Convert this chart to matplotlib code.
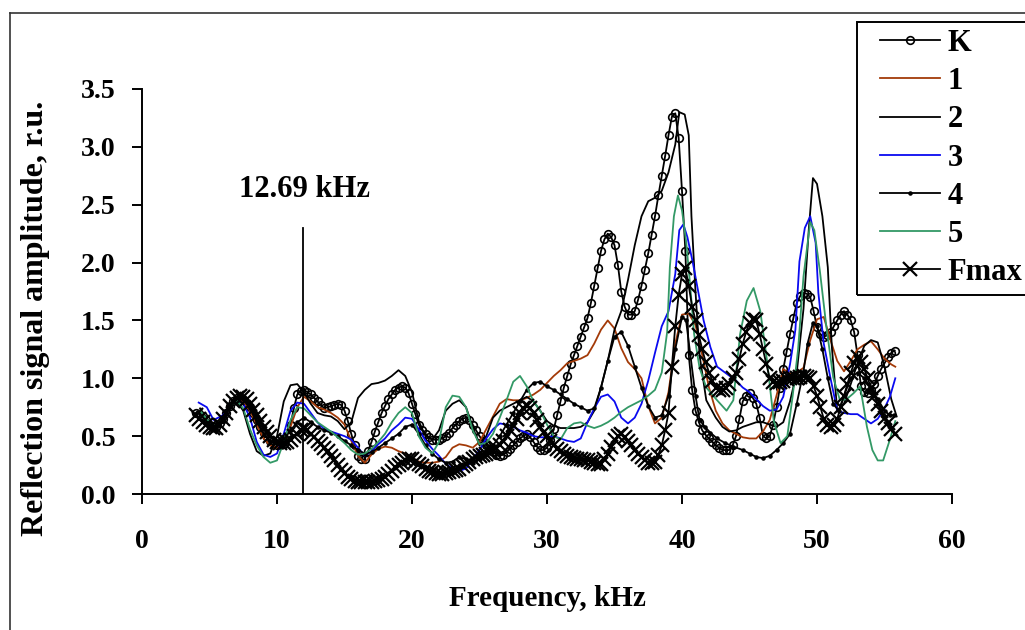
import matplotlib.pyplot as plt
import numpy as np
from matplotlib.lines import Line2D
from matplotlib.patches import Rectangle

plt.rcParams['font.family'] = 'Liberation Serif'
plt.rcParams['font.weight'] = 'bold'

# K and Fmax are sampled every 0.25 kHz from 4 kHz
f_grid = np.arange(208) * 0.25 + 4.0

v_k = [0.70, 0.69, 0.67, 0.64, 0.60, 0.58, 0.58, 0.61,   # 4-6
       0.65, 0.70, 0.76, 0.80, 0.83, 0.83, 0.82, 0.79,   # 6-8
       0.75, 0.70, 0.64, 0.58, 0.53, 0.49, 0.46, 0.44,
       0.42, 0.42, 0.43, 0.50, 0.60, 0.74, 0.86, 0.89,   # 10
       0.90, 0.88, 0.86, 0.83, 0.80, 0.77, 0.74, 0.75,
       0.76, 0.77, 0.78, 0.77, 0.72, 0.63, 0.52, 0.42,   # 14
       0.33, 0.30, 0.30, 0.37, 0.45, 0.54, 0.62, 0.70,
       0.76, 0.82, 0.86, 0.90, 0.92, 0.93, 0.92, 0.87,   # 18
       0.78, 0.69, 0.60, 0.55, 0.52, 0.49, 0.47, 0.47,
       0.47, 0.48, 0.50, 0.53, 0.57, 0.60, 0.63, 0.65,   # 22
       0.66, 0.64, 0.60, 0.55, 0.50, 0.46, 0.42, 0.39,
       0.36, 0.34, 0.33, 0.34, 0.36, 0.39, 0.42, 0.45,   # 26
       0.48, 0.50, 0.52, 0.49, 0.45, 0.41, 0.38, 0.38,
       0.40, 0.47, 0.56, 0.68, 0.80, 0.92, 1.02, 1.12,   # 30
       1.20, 1.28, 1.36, 1.44, 1.52, 1.65, 1.80, 1.95,
       2.10, 2.20, 2.25, 2.22, 2.15, 1.98, 1.75, 1.62,   # 34
       1.55, 1.55, 1.58, 1.68, 1.80, 1.94, 2.08, 2.24,
       2.40, 2.58, 2.75, 2.92, 3.10, 3.26, 3.29, 3.08,   # 38
       2.62, 2.10, 1.20, 0.90, 0.72, 0.62, 0.55, 0.51,
       0.48, 0.45, 0.42, 0.40, 0.38, 0.38, 0.38, 0.42,   # 42
       0.50, 0.65, 0.80, 0.85, 0.87, 0.83, 0.78, 0.66,
       0.50, 0.48, 0.50, 0.60, 0.75, 0.92, 1.08, 1.23,   # 46
       1.38, 1.52, 1.65, 1.71, 1.74, 1.73, 1.70, 1.58,
       1.44, 1.38, 1.36, 1.37, 1.40, 1.45, 1.50, 1.55,   # 50
       1.58, 1.55, 1.50, 1.40, 1.20, 0.93, 0.88, 0.87,
       0.90, 0.95, 1.02, 1.08, 1.13, 1.18, 1.22, 1.24]   # 54-56

v_fm = [0.68, 0.65, 0.62, 0.60, 0.58, 0.57, 0.57, 0.60,  # 4-6
        0.65, 0.70, 0.76, 0.80, 0.83, 0.85, 0.84, 0.82,
        0.78, 0.73, 0.68, 0.63, 0.58, 0.54, 0.50, 0.47,  # 8
        0.45, 0.44, 0.44, 0.45, 0.47, 0.50, 0.52, 0.55,
        0.56, 0.55, 0.52, 0.49, 0.46, 0.43, 0.40, 0.37,  # 12
        0.33, 0.29, 0.25, 0.21, 0.18, 0.15, 0.13, 0.11,
        0.10, 0.10, 0.10, 0.10, 0.10, 0.11, 0.12, 0.13,  # 16
        0.15, 0.17, 0.20, 0.23, 0.25, 0.27, 0.29, 0.30,
        0.30, 0.28, 0.26, 0.24, 0.22, 0.20, 0.19, 0.18,  # 20
        0.17, 0.17, 0.18, 0.19, 0.20, 0.21, 0.22, 0.24,
        0.26, 0.28, 0.30, 0.32, 0.33, 0.34, 0.35, 0.36,  # 24
        0.38, 0.40, 0.42, 0.46, 0.50, 0.55, 0.60, 0.65,
        0.70, 0.74, 0.76, 0.74, 0.70, 0.64, 0.58, 0.54,  # 28
        0.50, 0.46, 0.42, 0.39, 0.37, 0.35, 0.33, 0.32,
        0.31, 0.30, 0.30, 0.29, 0.29, 0.28, 0.27, 0.26,  # 32
        0.26, 0.30, 0.35, 0.41, 0.47, 0.50, 0.52, 0.49,
        0.46, 0.42, 0.38, 0.35, 0.32, 0.29, 0.27, 0.27,  # 36
        0.28, 0.34, 0.42, 0.55, 0.70, 1.10, 1.45, 1.72,
        1.90, 1.95, 1.80, 1.62, 1.50, 1.37, 1.25, 1.14,  # 40
        1.05, 0.98, 0.92, 0.90, 0.90, 0.92, 0.95, 1.00,
        1.05, 1.17, 1.30, 1.40, 1.48, 1.51, 1.50, 1.38,  # 44
        1.25, 1.12, 1.00, 0.97, 0.96, 0.97, 0.98, 0.99,
        1.00, 1.00, 1.00, 1.01, 1.02, 1.01, 1.00, 0.93,  # 48
        0.85, 0.75, 0.65, 0.60, 0.58, 0.60, 0.65, 0.75,
        0.85, 0.95, 1.05, 1.13, 1.18, 1.14, 1.08, 1.00,  # 52
        0.92, 0.85, 0.78, 0.72, 0.66, 0.61, 0.56, 0.52]

# series 1 (brown)
f_1 = [4.3, 5.0, 5.5, 6.0, 6.5, 7.0, 7.5, 8.0, 8.5, 9.0,
       9.5, 10.0, 10.5, 11.0, 11.5, 12.0, 12.5, 13.0, 13.5, 14.0,
       14.5, 15.0, 15.5, 16.0, 16.5, 17.0, 17.5, 18.0, 18.5, 19.0,
       19.5, 20.0, 20.5, 21.0, 21.5, 22.0, 22.5, 23.0, 23.5, 24.0,
       24.5, 25.0, 25.5, 26.0, 26.5, 27.0, 27.5, 28.0, 28.5, 29.0,
       29.5, 30.0, 30.5, 31.0, 31.5, 32.0, 32.5, 33.0, 33.5, 34.0,
       34.5, 35.0, 35.5, 36.0, 36.5, 37.0, 37.5, 38.0, 38.5, 39.0,
       39.5, 40.0, 40.5, 41.0, 41.5, 42.0, 42.5, 43.0, 43.5, 44.0,
       44.5, 45.0, 45.5, 46.0, 46.5, 47.0, 47.5, 48.0, 48.5, 49.0,
       49.5, 50.0, 50.5, 51.0, 51.5, 52.0, 52.5, 53.0, 53.5, 54.0,
       54.5, 55.0, 55.5, 55.8]
v_1 = [0.72, 0.62, 0.58, 0.66, 0.76, 0.82, 0.80, 0.72, 0.60, 0.48,
       0.42, 0.40, 0.45, 0.58, 0.75, 0.84, 0.80, 0.75, 0.73, 0.70,
       0.66, 0.60, 0.46, 0.33, 0.27, 0.34, 0.39, 0.41, 0.40, 0.37,
       0.35, 0.31, 0.28, 0.27, 0.27, 0.28, 0.32, 0.40, 0.43, 0.42,
       0.40, 0.45, 0.56, 0.67, 0.78, 0.82, 0.81, 0.81, 0.83, 0.86,
       0.90, 0.96, 1.02, 1.07, 1.13, 1.15, 1.17, 1.20, 1.30, 1.42,
       1.50, 1.43, 1.26, 1.14, 1.08, 1.00, 0.76, 0.61, 0.66, 0.88,
       1.30, 1.55, 1.56, 1.46, 1.20, 0.92, 0.72, 0.61, 0.55, 0.52,
       0.49, 0.48, 0.48, 0.54, 0.64, 0.85, 1.08, 1.04, 1.05, 1.09,
       1.33, 1.51, 1.53, 1.33, 1.15, 1.06, 1.15, 1.25, 1.29, 1.32,
       1.25, 1.17, 1.12, 1.10]

# series 2 (plain black)
f_2 = [4.3, 5.0, 5.5, 6.0, 6.5, 7.0, 7.5, 8.0, 8.5, 9.0,
       9.5, 10.0, 10.5, 11.0, 11.5, 12.0, 12.5, 13.0, 13.5, 14.0,
       14.5, 15.0, 15.5, 16.0, 16.5, 17.0, 17.5, 18.0, 18.5, 19.0,
       19.5, 20.0, 20.5, 21.0, 21.5, 22.0, 22.5, 23.0, 23.5, 24.0,
       24.5, 25.0, 25.5, 26.0, 26.5, 27.0, 27.5, 28.0, 28.5, 29.0,
       29.5, 30.0, 30.5, 31.0, 31.5, 32.0, 32.5, 33.0, 33.5, 34.0,
       34.5, 35.0, 35.5, 36.0, 36.5, 37.0, 37.5, 38.0, 38.5, 39.0,
       39.5, 39.8, 40.2, 40.5, 40.7, 41.0, 41.3, 41.8, 42.5, 43.0,
       43.5, 44.0, 44.5, 45.0, 45.5, 46.0, 46.5, 47.0, 47.5, 48.0,
       48.5, 49.0, 49.4, 49.7, 50.0, 50.4, 50.8, 51.1, 51.5, 52.0,
       52.5, 53.0, 53.5, 54.0, 54.5, 55.0, 55.5, 55.9]
v_2 = [0.74, 0.62, 0.58, 0.66, 0.76, 0.80, 0.72, 0.52, 0.37, 0.33,
       0.35, 0.50, 0.80, 0.94, 0.95, 0.88, 0.78, 0.70, 0.68, 0.67,
       0.63, 0.56, 0.62, 0.83, 0.90, 0.95, 0.96, 0.98, 1.02, 1.07,
       1.02, 0.88, 0.63, 0.50, 0.47, 0.55, 0.72, 0.78, 0.81, 0.75,
       0.58, 0.42, 0.50, 0.66, 0.72, 0.75, 0.78, 0.81, 0.84, 0.80,
       0.72, 0.63, 0.59, 0.57, 0.57, 0.57, 0.58, 0.62, 0.72, 0.92,
       1.15, 1.42, 1.58, 1.85, 2.15, 2.40, 2.53, 2.56, 2.62, 2.78,
       3.02, 3.30, 3.28, 3.10, 2.40, 1.75, 1.20, 0.81, 0.66, 0.58,
       0.54, 0.55, 0.58, 0.60, 0.62, 0.62, 0.60, 0.58, 0.62, 0.80,
       1.05, 1.60, 2.30, 2.73, 2.68, 2.40, 1.96, 1.27, 0.72, 0.78,
       0.95, 1.13, 1.28, 1.33, 1.31, 1.10, 0.82, 0.67]

# series 3 (blue)
f_3 = [4.2, 4.8, 5.3, 6.0, 6.5, 7.0, 7.5, 8.0, 8.5, 9.0,
       9.5, 10.0, 10.5, 11.0, 11.5, 12.0, 12.5, 13.0, 13.5, 14.0,
       14.5, 15.0, 15.5, 16.0, 16.5, 17.0, 17.5, 18.0, 18.5, 19.0,
       19.5, 20.0, 20.5, 21.0, 21.5, 22.0, 22.5, 23.0, 23.5, 24.0,
       24.5, 25.0, 25.5, 26.0, 26.5, 27.0, 27.5, 28.0, 28.5, 29.0,
       29.5, 30.0, 30.5, 31.0, 31.5, 32.0, 32.5, 33.0, 33.5, 34.0,
       34.5, 35.0, 35.5, 36.0, 36.5, 37.0, 37.5, 38.0, 38.5, 39.0,
       39.5, 39.8, 40.1, 40.4, 40.8, 41.2, 41.6, 42.1, 42.6, 43.3,
       44.0, 44.5, 45.0, 45.5, 46.0, 46.5, 47.0, 47.5, 48.0, 48.4,
       48.7, 49.1, 49.5, 49.9, 50.1, 50.5, 51.0, 51.5, 52.0, 52.5,
       53.0, 53.5, 54.0, 54.5, 55.0, 55.4, 55.8]
v_3 = [0.79, 0.75, 0.64, 0.68, 0.77, 0.82, 0.78, 0.66, 0.45, 0.34,
       0.32, 0.35, 0.52, 0.72, 0.79, 0.78, 0.70, 0.62, 0.56, 0.54,
       0.52, 0.50, 0.47, 0.40, 0.33, 0.37, 0.43, 0.48, 0.55, 0.60,
       0.66, 0.65, 0.56, 0.46, 0.39, 0.33, 0.26, 0.22, 0.20, 0.22,
       0.30, 0.38, 0.48, 0.56, 0.61, 0.60, 0.58, 0.55, 0.53, 0.50,
       0.49, 0.49, 0.50, 0.48, 0.46, 0.45, 0.48, 0.62, 0.74, 0.84,
       0.86, 0.80, 0.66, 0.61, 0.66, 0.78, 0.98, 1.22, 1.45, 1.58,
       1.90, 2.28, 2.33, 2.22, 2.00, 1.75, 1.50, 1.27, 1.10, 1.04,
       0.98, 0.92, 0.88, 0.82, 0.76, 0.72, 0.73, 0.84, 1.12, 1.42,
       2.01, 2.30, 2.40, 2.17, 1.74, 1.30, 1.00, 0.72, 0.70, 0.69,
       0.69, 0.65, 0.61, 0.65, 0.74, 0.84, 1.00]

# series 4 (black with dots)
f_4 = [4.3, 5.0, 5.5, 6.0, 6.5, 7.0, 7.5, 8.0, 8.5, 9.0,
       9.5, 10.0, 10.5, 11.0, 11.5, 12.0, 12.5, 13.0, 13.5, 14.0,
       14.5, 15.0, 15.5, 16.0, 16.5, 17.0, 17.5, 18.0, 18.5, 19.0,
       19.5, 20.0, 20.5, 21.0, 21.5, 22.0, 22.5, 23.0, 23.5, 24.0,
       24.5, 25.0, 25.5, 26.0, 26.5, 27.0, 27.5, 28.0, 28.5, 29.0,
       29.5, 30.0, 30.5, 31.0, 31.5, 32.0, 32.5, 33.0, 33.5, 34.0,
       34.5, 35.0, 35.5, 36.0, 36.5, 37.0, 37.5, 38.0, 38.5, 39.0,
       39.5, 40.0, 40.3, 40.6, 41.0, 41.3, 41.7, 42.1, 42.6, 43.2,
       43.8, 44.5, 45.0, 45.5, 46.0, 46.5, 47.0, 47.5, 48.0, 48.5,
       49.0, 49.3, 49.7, 50.0, 50.4, 50.8, 51.2, 51.6, 52.0, 52.5,
       53.0, 53.5, 54.0, 54.5, 55.0, 55.4, 55.7]
v_4 = [0.70, 0.60, 0.57, 0.65, 0.76, 0.83, 0.82, 0.74, 0.62, 0.52,
       0.45, 0.44, 0.48, 0.55, 0.62, 0.66, 0.62, 0.58, 0.55, 0.53,
       0.50, 0.46, 0.42, 0.38, 0.35, 0.36, 0.40, 0.44, 0.48, 0.52,
       0.58, 0.60, 0.52, 0.42, 0.35, 0.30, 0.27, 0.28, 0.32, 0.30,
       0.27, 0.30, 0.35, 0.42, 0.50, 0.60, 0.70, 0.80, 0.90, 0.96,
       0.97, 0.93, 0.90, 0.86, 0.82, 0.78, 0.75, 0.72, 0.74, 0.92,
       1.15, 1.36, 1.40, 1.28, 1.10, 0.92, 0.76, 0.66, 0.68, 0.85,
       1.25, 1.53, 1.50, 1.22, 0.85, 0.64, 0.58, 0.53, 0.48, 0.44,
       0.41, 0.38, 0.35, 0.32, 0.31, 0.33, 0.38, 0.44, 0.52, 0.78,
       1.06, 1.30, 1.48, 1.45, 1.25, 1.00, 0.78, 0.72, 0.85, 1.00,
       1.05, 1.00, 0.92, 0.82, 0.72, 0.68, 0.68]

# series 5 (green)
f_5 = [4.3, 5.0, 5.5, 6.0, 6.5, 7.0, 7.5, 8.0, 8.5, 9.0,
       9.5, 10.0, 10.5, 11.0, 11.5, 12.0, 12.5, 13.0, 13.5, 14.0,
       14.5, 15.0, 15.5, 16.0, 16.5, 17.0, 17.5, 18.0, 18.5, 19.0,
       19.5, 20.0, 20.5, 21.0, 21.5, 22.0, 22.5, 23.0, 23.5, 24.0,
       24.5, 25.0, 25.5, 26.0, 26.5, 27.0, 27.5, 28.0, 28.5, 29.0,
       29.5, 30.0, 30.5, 31.0, 31.5, 32.0, 32.5, 33.0, 33.5, 34.0,
       34.5, 35.0, 35.5, 36.0, 36.5, 37.0, 37.5, 38.0, 38.5, 38.9,
       39.1, 39.4, 39.7, 40.0, 40.3, 40.6, 40.9, 41.3, 41.8, 42.6,
       43.3, 43.8, 44.3, 44.8, 45.3, 45.8, 46.3, 46.8, 47.3, 47.8,
       48.2, 48.6, 49.0, 49.5, 49.8, 50.2, 50.7, 51.2, 51.7, 52.2,
       52.7, 53.2, 53.7, 54.1, 54.5, 54.9, 55.4, 55.8]
v_5 = [0.72, 0.62, 0.58, 0.66, 0.76, 0.81, 0.74, 0.56, 0.42, 0.32,
       0.27, 0.29, 0.45, 0.64, 0.75, 0.74, 0.68, 0.62, 0.58, 0.54,
       0.49, 0.44, 0.38, 0.34, 0.35, 0.39, 0.45, 0.52, 0.62, 0.70,
       0.75, 0.70, 0.50, 0.40, 0.35, 0.45, 0.75, 0.85, 0.84, 0.75,
       0.55, 0.43, 0.44, 0.52, 0.66, 0.81, 0.97, 1.02, 0.93, 0.80,
       0.72, 0.60, 0.50, 0.47, 0.57, 0.61, 0.62, 0.59, 0.57, 0.59,
       0.62, 0.66, 0.71, 0.75, 0.78, 0.81, 0.85, 0.90, 1.05, 1.40,
       1.96, 2.40, 2.58, 2.45, 2.19, 1.81, 1.38, 1.09, 0.92, 0.81,
       0.72, 0.81, 1.38, 1.67, 1.78, 1.58, 1.15, 0.63, 0.44, 0.50,
       0.85, 1.25, 1.88, 2.35, 2.28, 1.94, 1.44, 1.01, 0.81, 0.82,
       0.87, 0.93, 0.58, 0.38, 0.29, 0.29, 0.47, 0.63]

marker_freq = 11.9     # vertical marker line
marker_top = 2.3
marker_text = '12.69 kHz'

W, H = 1025, 630
fig = plt.figure(figsize=(W / 100, H / 100), dpi=100)
ax = fig.add_axes([142 / W, 136 / H, 810 / W, 405 / H])

lw = 1.3
ax.plot(f_grid, v_k, color='black', lw=lw, marker='o', ms=5.5, mfc='none', mew=1.2, label='K')
ax.plot(f_1, v_1, color='#A33A08', lw=lw, label='1')
ax.plot(f_2, v_2, color='black', lw=lw, label='2')
ax.plot(f_3, v_3, color='#0A0AF0', lw=lw, label='3')
ax.plot(f_4, v_4, color='black', lw=lw, marker='.', ms=4.5, label='4')
ax.plot(f_5, v_5, color='#339966', lw=lw, label='5')
ax.plot(f_grid, v_fm, color='black', lw=lw, marker='x', ms=10, mew=1.6, label='Fmax')

ax.plot([marker_freq, marker_freq], [0, marker_top], color='black', lw=1.3)
ax.text(12.07, 2.63, marker_text, ha='center', va='center', fontsize=22, fontweight='bold')

ax.set_xlim(0, 60)
ax.set_ylim(0, 3.5)
ax.set_xticks(range(0, 61, 10))
ax.set_yticks([0, 0.5, 1.0, 1.5, 2.0, 2.5, 3.0, 3.5])
ax.set_yticklabels(['%.1f' % t for t in ax.get_yticks()])
for s in ['top', 'right']:
    ax.spines[s].set_visible(False)
for s in ['left', 'bottom']:
    ax.spines[s].set_linewidth(1.4)
ax.tick_params(direction='out', length=7, width=1.4, labelsize=20)
ax.tick_params(axis='x', pad=18)
ax.tick_params(axis='y', pad=12)
ax.set_xlabel('Frequency, kHz', fontsize=21, fontweight='bold', va='center')
ax.xaxis.set_label_coords(0.5, (494 - 598) / 405)
ax.set_ylabel('Reflection signal amplitude, r.u.', fontsize=23, fontweight='bold', va='center')
ax.yaxis.set_label_coords((35 - 142) / 810, (494 - 318) / 405)

# legend: box drawn separately, entries placed inside it
fig.add_artist(Rectangle((857 / W, 1 - 295 / H), 180 / W, 273 / H, transform=fig.transFigure,
                         fill=False, edgecolor='black', lw=1.4))
leg = fig.legend(loc='upper left', bbox_to_anchor=(880 / W, 1 - 29 / H),
                 fontsize=22, frameon=False, handlelength=1.96, handletextpad=0.26,
                 labelspacing=0.3, borderpad=0, borderaxespad=0, numpoints=1)

# outer chart border
fig.add_artist(Line2D([10 / W, 1.0], [1 - 13 / H, 1 - 13 / H], color='#333333', lw=1.2))
fig.add_artist(Line2D([10 / W, 10 / W], [0, 1 - 13 / H], color='#333333', lw=1.2))

fig.savefig('out.png', dpi=100)
